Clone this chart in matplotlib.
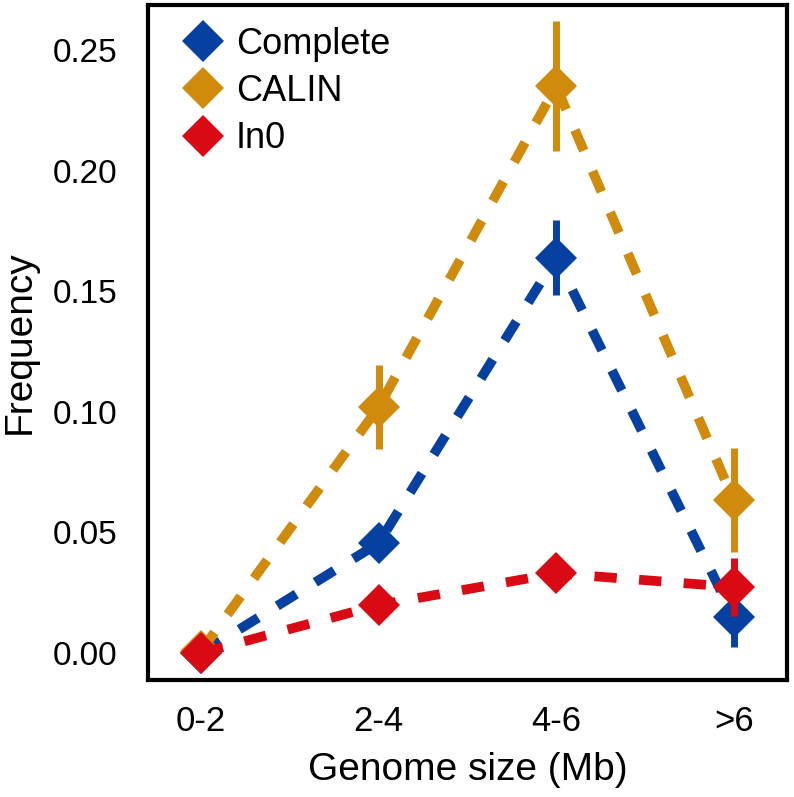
import matplotlib
matplotlib.use("Agg")
import matplotlib.pyplot as plt
from matplotlib.lines import Line2D

plt.rcParams['font.family'] = ['Liberation Sans', 'DejaVu Sans']

categories = ["0-2", "2-4", "4-6", ">6"]
series_names = ["Complete", "CALIN", "In0"]
complete = [0.0, 0.0456, 0.164, 0.015]
complete_err = [0.0, 0.005, 0.0155, 0.0124]
calin = [0.001, 0.102, 0.235, 0.0634]
calin_err = [0.0, 0.0174, 0.027, 0.0217]
in0 = [0.0, 0.0199, 0.033, 0.0274]
in0_err = [0.0, 0.003, 0.004, 0.012]
colors = ["#0640A0", "#D08A0C", "#DA0A14"]
yticks = [0.00, 0.05, 0.10, 0.15, 0.20, 0.25]

fig = plt.figure(figsize=(7.94, 7.97), dpi=100)
ax = fig.add_axes([0.1864, 0.1468, 0.8046, 0.8469])

x = list(range(len(categories)))
handles = []
for name, vals, errs, c in zip(series_names, [complete, calin, in0],
                                [complete_err, calin_err, in0_err], colors):
    ax.errorbar(x, vals, yerr=errs, fmt='none', ecolor=c, elinewidth=5, capsize=0)
    ax.plot(x, vals, color=c, lw=7, linestyle=(0, (2.3, 2.3)),
            dash_capstyle='butt', marker='D', markersize=21,
            markerfacecolor=c, markeredgewidth=0)
    handles.append(Line2D([], [], color=c, marker='D', markersize=21,
                          markeredgewidth=0, linestyle='none', label=name))

ax.set_xlim(-0.3, 3.3)
ax.set_ylim(-0.0112, 0.2687)
ax.set_xticks(x)
ax.set_xticklabels(categories)
ax.set_yticks(yticks)
ax.set_yticklabels([f"{t:.2f}" for t in yticks])
ax.tick_params(axis='y', length=0, labelsize=24, pad=22)
ax.tick_params(axis='x', length=0, labelsize=25, pad=18)
for s in ax.spines.values():
    s.set_linewidth(3)
ax.set_xlabel("Genome size (Mb)", fontsize=28)
ax.set_ylabel("Frequency", fontsize=28)
ax.yaxis.set_label_coords(-0.172, 0.5)
ax.xaxis.set_label_coords(0.5, -0.106)

ax.legend(handles=handles, loc='upper left', frameon=False, fontsize=26,
          handlelength=0.8, handletextpad=0.5, labelspacing=0.34,
          borderaxespad=0.2, bbox_to_anchor=(0.03, 1.0))

fig.savefig("out.png", dpi=100)
